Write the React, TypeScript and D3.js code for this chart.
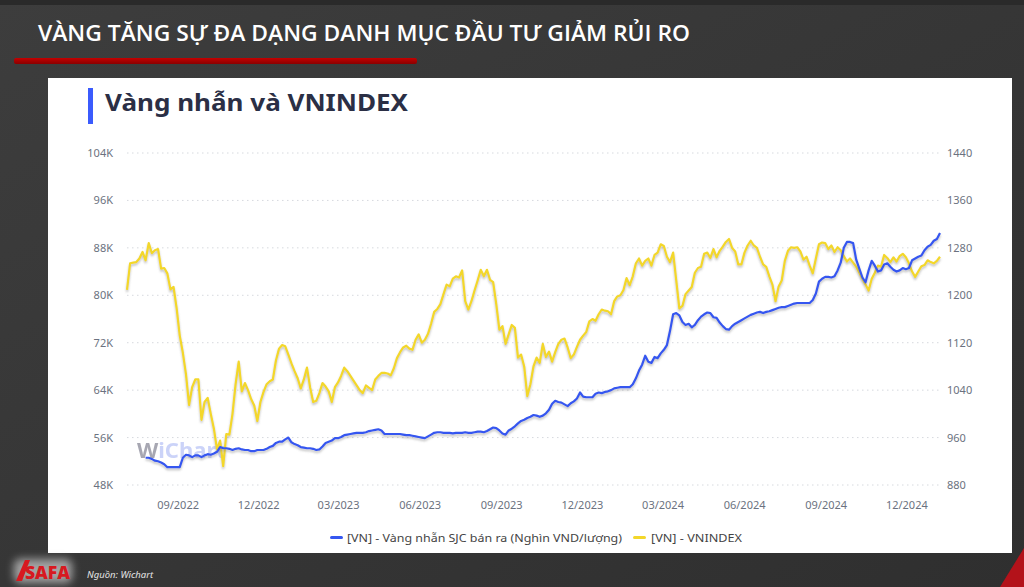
import * as d3 from 'd3';

const startDate = new Date(2022, 6, 29);

const vnindex = [
  1209, 1254, 1255, 1256, 1262, 1273, 1259, 1288, 1271, 1276, 1278, 1245, 1246, 1237, 1210, 1214,
  1178, 1132, 1103, 1067, 1015, 1045, 1058, 1058, 990, 1020, 1027, 1000, 975, 940, 955, 912,
  966, 965, 1000, 1050, 1088, 1038, 1052, 1040, 1025, 1014, 988, 1020, 1037, 1050, 1055, 1058,
  1090, 1110, 1116, 1114, 1100, 1085, 1072, 1060, 1043, 1058, 1078, 1045, 1020, 1022, 1035, 1052,
  1046, 1038, 1020, 1045, 1053, 1064, 1078, 1072, 1064, 1056, 1048, 1040, 1035, 1048, 1044, 1040,
  1058, 1064, 1069, 1069, 1068, 1065, 1077, 1094, 1104, 1112, 1115, 1110, 1108, 1125, 1134, 1120,
  1125, 1135, 1152, 1172, 1177, 1185, 1202, 1218, 1215, 1228, 1232, 1230, 1242, 1190, 1176, 1190,
  1208, 1225, 1243, 1232, 1243, 1226, 1222, 1185, 1142, 1148, 1118, 1134, 1150, 1145, 1095, 1100,
  1080, 1030, 1050, 1080, 1095, 1086, 1118, 1096, 1105, 1088, 1104, 1118, 1125, 1127, 1112, 1094,
  1100, 1113, 1125, 1132, 1138, 1156, 1160, 1157, 1168, 1176, 1174, 1173, 1168, 1190, 1198, 1200,
  1209, 1229, 1217, 1232, 1254, 1262, 1250, 1258, 1262, 1250, 1268, 1272, 1286, 1283, 1265, 1256,
  1272, 1225, 1178, 1182, 1202, 1208, 1214, 1238, 1246, 1248, 1270, 1272, 1263, 1278, 1264, 1275,
  1282, 1290, 1295, 1280, 1274, 1252, 1252, 1272, 1284, 1292, 1284, 1280, 1265, 1252, 1248, 1232,
  1218, 1190, 1215, 1225, 1258, 1275, 1281, 1280, 1281, 1274, 1260, 1265, 1250, 1237, 1262, 1286,
  1289, 1288, 1278, 1284, 1273, 1281, 1276, 1266, 1257, 1262, 1255, 1248, 1238, 1228, 1218, 1208,
  1228, 1238, 1250, 1248, 1268, 1263, 1256, 1264, 1257, 1266, 1270, 1264, 1254, 1240, 1231, 1240,
  1249, 1251, 1259, 1256, 1254, 1258, 1265,
];

// Vàng nhẫn SJC bán ra, nghìn VND/lượng (series starts later than VNINDEX)
const ringGold: (number | null)[] = [
  null, null, null, null, null, null,
  52.6, 52.6, 52.4, 52.1, 52.0, 51.8, 51.5, 51.0, 51.0, 51.0, 51.0, 51.0, 52.6, 53.1,
  53.0, 52.7, 53.0, 53.0, 52.7, 53.0, 53.2, 53.1, 53.3, 53.6, 54.4, 54.2, 54.2, 54.1,
  53.9, 54.1, 54.2, 54.0, 53.9, 53.9, 53.7, 53.7, 53.9, 53.9, 53.9, 54.1, 54.4, 54.6,
  55.1, 55.3, 55.3, 55.7, 56.0, 55.2, 54.9, 54.7, 54.4, 54.3, 54.2, 54.2, 54.1, 53.9,
  54.0, 54.5, 55.1, 55.3, 55.5, 55.9, 55.9, 56.1, 56.4, 56.5, 56.6, 56.7, 56.8, 56.8,
  56.8, 56.9, 57.1, 57.2, 57.3, 57.4, 57.2, 56.6, 56.6, 56.6, 56.6, 56.6, 56.6, 56.5,
  56.4, 56.4, 56.3, 56.2, 56.1, 56.0, 55.9, 56.2, 56.5, 56.8, 56.9, 56.9, 56.8, 56.8,
  56.8, 56.7, 56.8, 56.8, 56.8, 56.9, 56.8, 56.8, 56.9, 57.0, 57.0, 56.9, 57.1, 57.4,
  57.7, 57.6, 57.2, 56.7, 56.5, 57.2, 57.5, 57.9, 58.4, 58.8, 59.0, 59.3, 59.5, 59.8,
  59.7, 59.5, 59.7, 60.1, 60.7, 61.7, 62.2, 62.0, 61.9, 61.6, 61.3, 61.8, 62.1, 62.6,
  63.6, 62.9, 62.8, 62.8, 62.8, 63.4, 63.6, 63.5, 63.7, 63.8, 64.0, 64.3, 64.4, 64.5,
  64.5, 64.5, 64.5, 65.0, 66.0, 67.3, 68.3, 69.8, 68.8, 68.6, 69.6, 69.4, 70.2, 70.8,
  71.6, 74.0, 76.8, 77.0, 76.6, 75.5, 75.0, 75.2, 74.6, 75.0, 75.8, 76.4, 76.8, 77.1,
  77.0, 76.3, 76.2, 75.4, 74.8, 74.3, 74.2, 74.8, 75.2, 75.5, 75.8, 76.1, 76.4, 76.7,
  76.9, 77.1, 77.2, 77.0, 77.2, 77.3, 77.5, 77.7, 77.9, 78.0, 78.0, 78.2, 78.4, 78.6,
  78.7, 78.7, 78.7, 78.7, 78.7, 79.2, 80.3, 82.3, 82.8, 83.1, 83.1, 83.0, 83.2, 84.2,
  85.5, 88.0, 89.0, 89.0, 88.8, 86.0, 84.5, 83.0, 82.2, 84.2, 85.8, 85.0, 84.0, 84.2,
  85.2, 85.4, 84.8, 84.3, 84.0, 84.2, 84.6, 84.4, 84.6, 85.9, 86.2, 86.5, 86.7, 87.6,
  88.2, 88.5, 89.2, 89.5, 90.5,
];

const leftTicks = [48, 56, 64, 72, 80, 88, 96, 104];
const rightTicks = [880, 960, 1040, 1120, 1200, 1280, 1360, 1440];

// one reading every 3.5 days
const dates = vnindex.map((_, i) => d3.timeHour.offset(startDate, i * 84));

const W = 1024;
const H = 587;
const plot = { left: 127, right: 940, top: 153, bottom: 485 };

const BLUE = '#3557f0';
const YELLOW = '#f3d72a';
const AXIS_TEXT = '#6b7280';

export default function App() {
  const x = d3
    .scaleTime()
    .domain([dates[0], dates[dates.length - 1]])
    .range([plot.left, plot.right]);
  const yLeft = d3.scaleLinear().domain([48, 104]).range([plot.bottom, plot.top]);
  const yRight = d3.scaleLinear().domain([880, 1440]).range([plot.bottom, plot.top]);

  const monthTicks = d3
    .timeMonth.range(new Date(2022, 8, 1), dates[dates.length - 1])
    .filter((d) => d.getMonth() % 3 === 2);
  const fmt = d3.timeFormat('%m/%Y');

  const goldLine = d3
    .line<number | null>()
    .defined((d) => d != null)
    .x((_, i) => x(dates[i]))
    .y((d) => yLeft(d as number));
  const indexLine = d3
    .line<number>()
    .x((_, i) => x(dates[i]))
    .y((d) => yRight(d));

  const font = '"Noto Sans", "Open Sans", sans-serif';

  return (
    <svg
      width={W}
      height={H}
      viewBox={`0 0 ${W} ${H}`}
      style={{ position: 'absolute', left: 0, top: 0, display: 'block' }}
      fontFamily={font}
    >
      <defs>
        <linearGradient id="bg" x1="0" y1="0" x2="1" y2="1">
          <stop offset="0" stopColor="#3d3d3d" />
          <stop offset="0.5" stopColor="#363636" />
          <stop offset="1" stopColor="#2f2f2f" />
        </linearGradient>
        <linearGradient id="redbar" x1="0" y1="0" x2="0" y2="1">
          <stop offset="0" stopColor="#c40000" />
          <stop offset="1" stopColor="#8a0000" />
        </linearGradient>
        <filter id="shadow" x="-5%" y="-5%" width="110%" height="120%">
          <feDropShadow dx="0" dy="2" stdDeviation="1.2" floodColor="#777" floodOpacity="0.45" />
        </filter>
        <filter id="glow" x="-40%" y="-60%" width="180%" height="220%">
          <feGaussianBlur stdDeviation="4" />
        </filter>
      </defs>

      <rect width={W} height={H} fill="url(#bg)" />
      <rect width={W} height={5} fill="#2a2a2a" />

      <text
        x={38}
        y={41}
        fill="#fff"
        fontFamily='"Open Sans", sans-serif'
        fontWeight={600}
        fontSize={21}
        textLength={652}
        lengthAdjust="spacingAndGlyphs"
      >
        VÀNG TĂNG SỰ ĐA DẠNG DANH MỤC ĐẦU TƯ GIẢM RỦI RO
      </text>
      <rect x={14} y={58} width={403} height={6} rx={2} fill="url(#redbar)" />

      {/* white chart panel */}
      <rect x={48} y={78} width={964} height={475} fill="#fff" />
      <rect x={88} y={88} width={5} height={36} fill="#3b5bfd" />
      <text
        x={105}
        y={111}
        fill="#2b2f45"
        fontWeight={700}
        fontSize={23}
        textLength={303}
        lengthAdjust="spacingAndGlyphs"
      >
        Vàng nhẫn và VNINDEX
      </text>

      {/* grid + y axes */}
      {leftTicks.map((t, i) => (
        <g key={t}>
          <line
            x1={plot.left}
            x2={plot.right}
            y1={yLeft(t)}
            y2={yLeft(t)}
            stroke="#d6d9de"
            strokeDasharray="1.5 3.5"
          />
          <text x={113} y={yLeft(t) + 4} textAnchor="end" fontSize={11} fill={AXIS_TEXT}>
            {t}K
          </text>
          <text x={947} y={yRight(rightTicks[i]) + 4} fontSize={11} fill={AXIS_TEXT}>
            {rightTicks[i]}
          </text>
        </g>
      ))}

      {monthTicks.map((d) => (
        <text key={d.getTime()} x={x(d)} y={509} fontSize={11} fill={AXIS_TEXT}>
          {fmt(d)}
        </text>
      ))}

      {/* watermark */}
      <text x={137} y={458} fontSize={22} fontWeight={700} opacity={0.6}>
        <tspan fill="#6e6e80">W</tspan>
        <tspan fill="#a9b6f5">iChart</tspan>
      </text>

      <path
        d={indexLine(vnindex) ?? ''}
        fill="none"
        stroke={YELLOW}
        strokeWidth={2.2}
        strokeLinejoin="round"
        filter="url(#shadow)"
      />
      <path
        d={goldLine(ringGold) ?? ''}
        fill="none"
        stroke={BLUE}
        strokeWidth={2.2}
        strokeLinejoin="round"
        filter="url(#shadow)"
      />

      {/* legend */}
      <rect x={330} y={536} width={13} height={3} rx={1.5} fill={BLUE} />
      <text
        x={347}
        y={542}
        fontSize={11.5}
        fill="#444"
        textLength={275}
        lengthAdjust="spacingAndGlyphs"
      >
        [VN] - Vàng nhẫn SJC bán ra (Nghìn VND/lượng)
      </text>
      <rect x={633} y={536} width={13} height={3} rx={1.5} fill={YELLOW} />
      <text
        x={651}
        y={542}
        fontSize={11.5}
        fill="#444"
        textLength={91}
        lengthAdjust="spacingAndGlyphs"
      >
        [VN] - VNINDEX
      </text>

      {/* footer */}
      <rect x={14} y={559} width={58} height={24} rx={6} fill="#c8c8c8" opacity={0.75} filter="url(#glow)" />
      <path d="M16 581 L25 560 L30 560 L22 581 Z" fill="#d71920" />
      <text
        x={25}
        y={579}
        fontFamily='"Open Sans", sans-serif'
        fontWeight={800}
        fontSize={18}
        fill="#d71920"
        textLength={45}
        lengthAdjust="spacingAndGlyphs"
      >
        SAFA
      </text>
      <text x={87} y={578} fontSize={9.5} fontStyle="italic" fill="#e5e5e5">
        Nguồn: Wichart
      </text>
      <path d={`M${W} 548 L${W} ${H} L1000 ${H} Z`} fill="#b3121a" />
    </svg>
  );
}
